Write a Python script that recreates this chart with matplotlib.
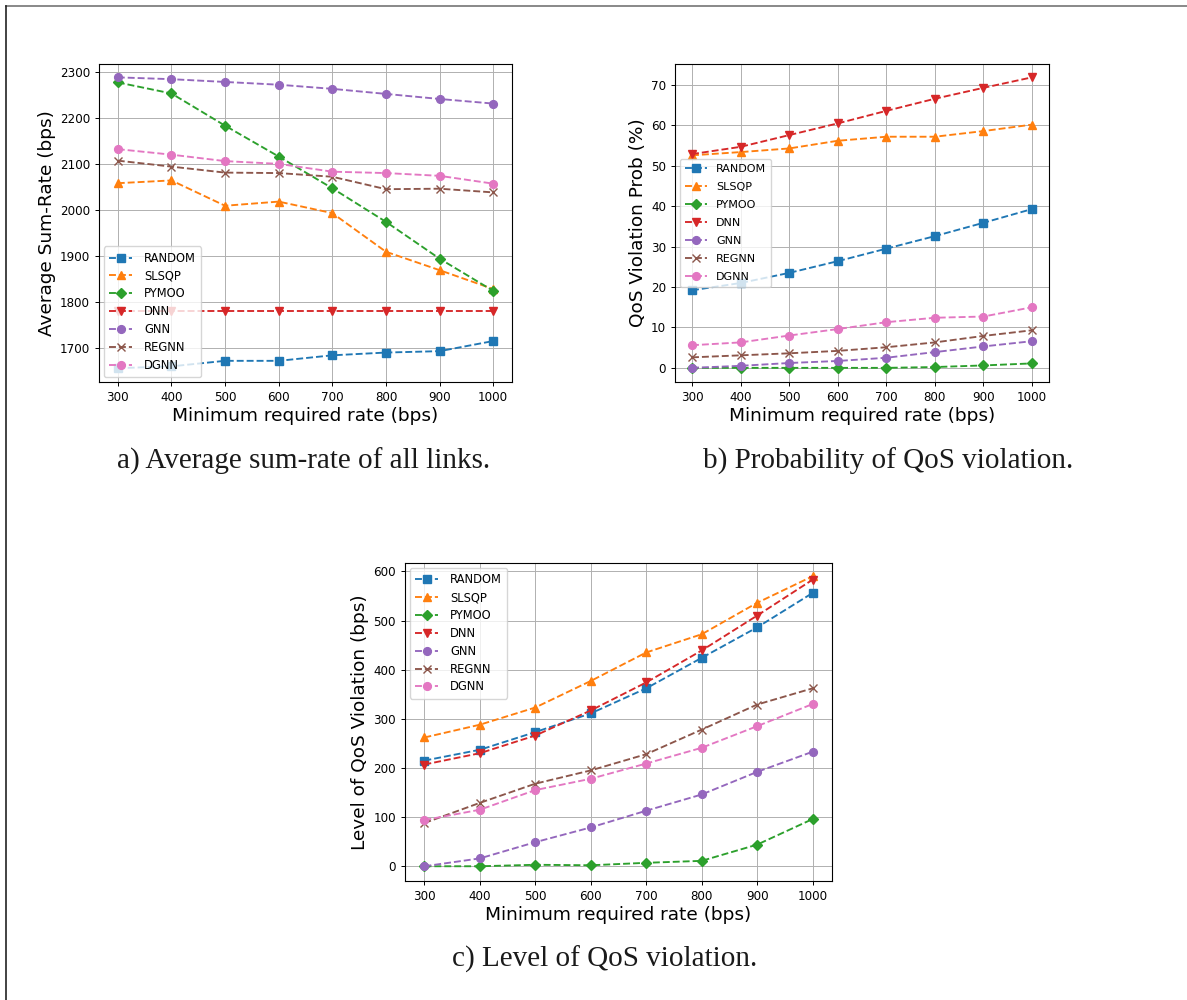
import numpy as np
import matplotlib
matplotlib.use('Agg')
import matplotlib.pyplot as plt
from matplotlib.lines import Line2D

# data
rates = [300, 400, 500, 600, 700, 800, 900, 1000]
methods = ['RANDOM', 'SLSQP', 'PYMOO', 'DNN', 'GNN', 'REGNN', 'DGNN']
markers = ['s', '^', 'D', 'v', 'o', 'x', 'o']
colors = ['C0', 'C1', 'C2', 'C3', 'C4', 'C5', 'C6']

# a) average sum-rate (bps)
rate_random = [1656, 1660, 1672, 1672, 1684, 1690, 1693, 1715]
rate_slsqp = [2058, 2064, 2009, 2018, 1993, 1909, 1869, 1828]
rate_pymoo = [2277, 2253, 2183, 2116, 2047, 1974, 1894, 1824]
rate_dnn = [1780, 1780, 1780, 1780, 1780, 1780, 1780, 1780]
rate_gnn = [2288, 2284, 2278, 2272, 2263, 2252, 2241, 2231]
rate_regnn = [2107, 2094, 2081, 2080, 2072, 2045, 2046, 2038]
rate_dgnn = [2132, 2120, 2106, 2100, 2083, 2080, 2074, 2057]

# b) QoS violation probability (%)
prob_random = [19.2, 21.0, 23.5, 26.4, 29.5, 32.6, 35.9, 39.3]
prob_slsqp = [52.6, 53.4, 54.3, 56.2, 57.2, 57.2, 58.6, 60.2]
prob_pymoo = [0.0, 0.0, 0.0, 0.0, 0.0, 0.2, 0.6, 1.1]
prob_dnn = [52.9, 54.7, 57.6, 60.5, 63.6, 66.6, 69.3, 71.9]
prob_gnn = [0.0, 0.5, 1.2, 1.7, 2.5, 3.9, 5.3, 6.6]
prob_regnn = [2.6, 3.1, 3.6, 4.2, 5.1, 6.3, 7.9, 9.3]
prob_dgnn = [5.6, 6.3, 8.0, 9.6, 11.3, 12.4, 12.7, 15.0]

# c) level of QoS violation (bps)
lvl_random = [215, 237, 273, 311, 362, 424, 486, 556]
lvl_slsqp = [262, 288, 323, 377, 435, 472, 536, 590]
lvl_pymoo = [0, 0, 3, 2, 7, 11, 44, 96]
lvl_dnn = [207, 230, 266, 317, 374, 439, 510, 583]
lvl_gnn = [0, 16, 49, 79, 113, 146, 192, 233]
lvl_regnn = [88, 129, 168, 195, 228, 278, 329, 362]
lvl_dgnn = [94, 115, 155, 178, 209, 241, 285, 330]

W, H = 1187, 1000
fig = plt.figure(figsize=(W / 100, H / 100), dpi=100)


def panel(rect, series, ylabel, ylim, yticks, legend_loc, leg_fs=8.3, leg_sp=0.42, leg_tp=1.0):
    ax = fig.add_axes(rect)
    for vals, name, m, c in zip(series, methods, markers, colors):
        ax.plot(rates, vals, linestyle='--', marker=m, color=c, label=name,
                linewidth=1.35, markersize=5.6)
    ax.set_xlim(265, 1035)
    ax.set_ylim(*ylim)
    ax.set_xticks(rates)
    ax.set_yticks(yticks)
    ax.tick_params(labelsize=8.6, width=0.7, length=3)
    ax.grid(True, linewidth=0.7, color='#b0b0b0')
    for s in ax.spines.values():
        s.set_linewidth(0.8)
    ax.set_xlabel('Minimum required rate (bps)', fontsize=13.3, labelpad=2)
    ax.set_ylabel(ylabel, fontsize=13.3, labelpad=3)
    ax.legend(loc=legend_loc, fontsize=leg_fs, borderaxespad=0.45,
              labelspacing=leg_sp, handletextpad=leg_tp, borderpad=0.45)
    return ax


panel([99 / W, 0.618, 413 / W, 0.318],
      [rate_random, rate_slsqp, rate_pymoo, rate_dnn, rate_gnn, rate_regnn, rate_dgnn],
      'Average Sum-Rate (bps)', (1626, 2317), range(1700, 2301, 100), 'lower left')
panel([675 / W, 0.618, 374 / W, 0.318],
      [prob_random, prob_slsqp, prob_pymoo, prob_dnn, prob_gnn, prob_regnn, prob_dgnn],
      'QoS Violation Prob (%)', (-3.5, 75.2), range(0, 71, 10), 'center left',
      leg_fs=8.0, leg_sp=0.72, leg_tp=0.8)
panel([405 / W, 0.119, 427 / W, 0.318],
      [lvl_random, lvl_slsqp, lvl_pymoo, lvl_dnn, lvl_gnn, lvl_regnn, lvl_dgnn],
      'Level of QoS Violation (bps)', (-30, 617), range(0, 601, 100), 'upper left')

# captions
cap = dict(family='Liberation Serif', fontsize=21, ha='center', va='baseline', color='#1a1a1a')
fig.text(304 / W, 1 - 469 / H, 'a) Average sum-rate of all links.', **cap)
fig.text(888 / W, 1 - 469 / H, 'b) Probability of QoS violation.', **cap)
fig.text(605 / W, 1 - 967 / H, 'c) Level of QoS violation.', **cap)

# page frame lines
fig.add_artist(Line2D([5.5 / W, 1], [1 - 5.5 / H, 1 - 5.5 / H], color='#888888', linewidth=1.4))
fig.add_artist(Line2D([5.5 / W, 5.5 / W], [0, 1 - 5.5 / H], color='#222222', linewidth=1.2))

fig.savefig('out.png', dpi=100)
